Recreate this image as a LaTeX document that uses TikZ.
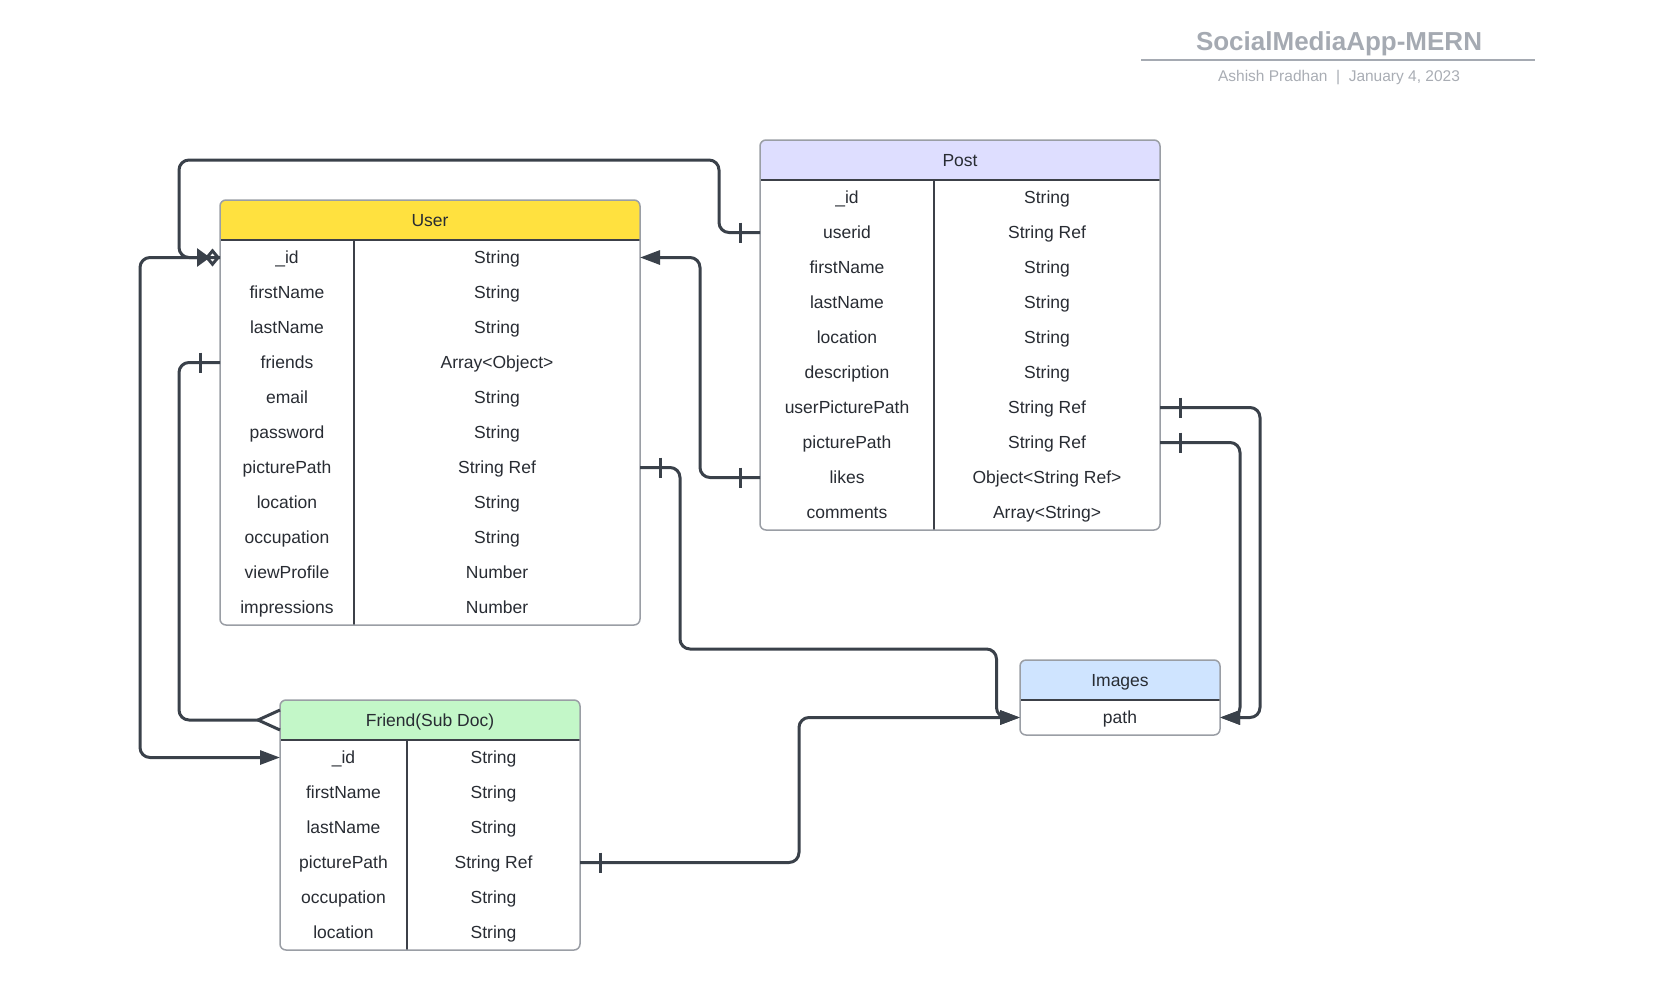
\documentclass[tikz,border=0pt]{standalone}
\usepackage{fontspec}
\setmainfont{Liberation Sans}
\usetikzlibrary{arrows.meta,calc}
\definecolor{linecol}{HTML}{3A414A}
\definecolor{textcol}{HTML}{282C33}
\definecolor{bordercol}{HTML}{9A9EA5}
\definecolor{sepcol}{HTML}{3C4048}
\definecolor{titlecol}{HTML}{A5AAB2}
\definecolor{subcol}{HTML}{A9ADB4}
\definecolor{userhdr}{HTML}{FFE13F}
\definecolor{posthdr}{HTML}{DEDEFF}
\definecolor{friendhdr}{HTML}{C3F7C8}
\definecolor{imghdr}{HTML}{CFE4FF}

\newcommand{\ertable}[9]{%
  \pgfmathsetmacro\tYa{#5+40}%
  \pgfmathsetmacro\tYb{#5+40+35*#6}%
  \pgfmathsetmacro\tXm{(#2+#3)/2}%
  \pgfmathsetmacro\tXl{(#2+#4)/2}%
  \pgfmathsetmacro\tXr{(#4+#3)/2}%
  \pgfmathsetmacro\tYh{#5+20}%
  \fill[white, rounded corners=6pt] (#2,#5) rectangle (#3,\tYb);
  \begin{scope}
    \clip[rounded corners=6pt] (#2,#5) rectangle (#3,\tYb);
    \fill[#7] (#2,#5) rectangle (#3,\tYa);
  \end{scope}
  \node[hdrbox, minimum width={#3-#2}] (#1-hdr) at (\tXm,\tYh) {};
  \node[txt] (#1-title) at (#1-hdr) {#8};
  \foreach \vk/\vt/\vn [count=\vi] in {#9} {
    \pgfmathsetmacro\tYr{\tYa+35*(\vi-0.5)}
    \node[rowbox, minimum width={#3-#2}] (#1-\vn) at (\tXm,\tYr) {};
    \node[txt] (#1-\vn-k) at (\tXl,\tYr) {\vk};
    \node[txt] (#1-\vn-t) at (\tXr,\tYr) {\vt};
  }
  \draw[hsep] (#2,\tYa) -- (#3,\tYa);
  \draw[vsep] (#4,\tYa) -- (#4,\tYb);
  \draw[frame] (#2,#5) rectangle (#3,\tYb);
}

\begin{document}
\begin{tikzpicture}[x=1pt,y=-1pt,
  txt/.style={font=\fontsize{17.5}{20}\selectfont, text=textcol, inner sep=0pt, text height=12pt, text depth=0pt, anchor=center},
  rowbox/.style={minimum height=35pt, inner sep=0pt, outer sep=0pt},
  hdrbox/.style={minimum height=40pt, inner sep=0pt, outer sep=0pt},
  frame/.style={draw=bordercol, line width=1.5pt, rounded corners=6pt},
  hsep/.style={draw=sepcol, line width=1.5pt},
  vsep/.style={draw=sepcol, line width=1.2pt},
  link/.style={draw=linecol, line width=3pt, rounded corners=10pt},
  tip/.style={-{Triangle[length=20pt,width=14pt]}},
  barmark/.style={draw=linecol, line width=3pt},
]
\useasboundingbox (0,0) rectangle (1673,1002);

% title block
\node[font=\bfseries\fontsize{26}{30}\selectfont, text=titlecol, inner sep=0pt, text height=18.6pt, text depth=0pt] (title) at (1339,41) {SocialMediaApp-MERN};
\draw[titlecol, line width=2pt] (1141,59.5) -- (1535,59.5);
\node[font=\fontsize{15.5}{18}\selectfont, text=subcol, inner sep=0pt, text height=11pt, text depth=0pt] (subtitle) at (1339,76) {Ashish Pradhan\ \ |\ \ January 4, 2023};

% tables
\ertable{user}{220}{640}{354}{200}{11}{userhdr}{User}{\_id/String/id, firstName/String/firstName, lastName/String/lastName, friends/Array<Object>/friends, email/String/email, password/String/password, picturePath/String Ref/picturePath, location/String/location, occupation/String/occupation, viewProfile/Number/viewProfile, impressions/Number/impressions}

\ertable{post}{760}{1160}{934}{140}{10}{posthdr}{Post}{\_id/String/id, userid/String Ref/userid, firstName/String/firstName, lastName/String/lastName, location/String/location, description/String/description, userPicturePath/String Ref/userPicturePath, picturePath/String Ref/picturePath, likes/Object<String Ref>/likes, comments/Array<String>/comments}

\ertable{friend}{280}{580}{407}{700}{6}{friendhdr}{Friend(Sub Doc)}{\_id/String/id, firstName/String/firstName, lastName/String/lastName, picturePath/String Ref/picturePath, occupation/String/occupation, location/String/location}

% Images table
\fill[white, rounded corners=6pt] (1020,660) rectangle (1220,735);
\begin{scope}
  \clip[rounded corners=6pt] (1020,660) rectangle (1220,735);
  \fill[imghdr] (1020,660) rectangle (1220,700);
\end{scope}
\node[hdrbox, minimum width=200pt] (images-hdr) at (1120,680) {};
\node[txt] (images-title) at (images-hdr) {Images};
\node[rowbox, minimum width=200pt] (images-path) at (1120,717.5) {};
\node[txt] (images-path-k) at (images-path) {path};
\draw[hsep] (1020,700) -- (1220,700);
\draw[frame] (1020,660) rectangle (1220,735);

% connectors
% Post.userid -> User._id
\draw[link, -{Triangle[length=13pt,width=18pt,sep=-5pt]Diamond[length=15pt,width=18pt,open,fill=white,line width=3pt]}]
  (post-userid.west) -- ++(-41,0) |- (179,160) |- (user-id.west);
\draw[barmark] ($(post-userid.west)+(-20,-10)$) -- ++(0,20);

% Post.likes -> User._id
\draw[link, tip] (post-likes.west) -- ++(-60,0) |- (user-id.east);
\draw[barmark] ($(post-likes.west)+(-20,-10)$) -- ++(0,20);

% User.picturePath -> Images.path
\draw[link, tip] (user-picturePath.east) -- ++(40,0) |- (996.5,649) |- (images-path.west);
\draw[barmark] ($(user-picturePath.east)+(20,-10)$) -- ++(0,20);

% Friend.picturePath -> Images.path
\draw[link, tip] (friend-picturePath.east) -- ++(219,0) |- (images-path.west);
\draw[barmark] ($(friend-picturePath.east)+(20,-10)$) -- ++(0,20);

% Post.userPicturePath -> Images.path
\draw[link, tip] (post-userPicturePath.east) -- ++(100,0) |- (images-path.east);
\draw[barmark] ($(post-userPicturePath.east)+(20,-10)$) -- ++(0,20);

% Post.picturePath -> Images.path
\draw[link, tip] (post-picturePath.east) -- ++(80,0) |- (images-path.east);
\draw[barmark] ($(post-picturePath.east)+(20,-10)$) -- ++(0,20);

% User.friends -> Friend (crow's foot)
\draw[link, shorten >=22pt] (user-friends.west) -- ++(-41,0) |- (friend-hdr.west);
\draw[barmark] ($(user-friends.west)+(-20,-10)$) -- ++(0,20);
\draw[barmark, line join=round] ($(friend-hdr.west)+(0,-10)$) -- ($(friend-hdr.west)+(-22,0)$) -- ($(friend-hdr.west)+(0,10)$);

% User._id -> Friend._id
\draw[link, tip] (user-id.west) -- ++(-80,0) |- (friend-id.west);
\end{tikzpicture}
\end{document}
